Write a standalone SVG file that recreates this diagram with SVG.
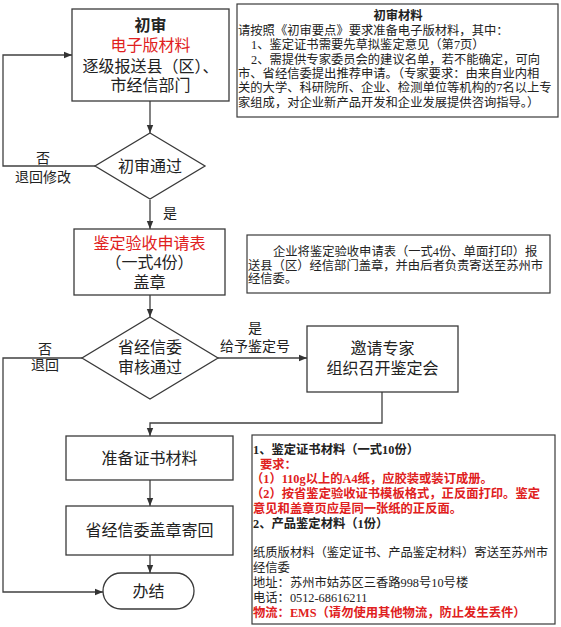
<svg xmlns="http://www.w3.org/2000/svg" width="561" height="627" viewBox="0 0 561 627">
<defs>
<marker id="arr" markerUnits="userSpaceOnUse" markerWidth="8" markerHeight="8" viewBox="0 0 8 8" refX="8" refY="4" orient="auto">
<path d="M0,0.8 L8,4 L0,7.2 Z" fill="#333"/>
</marker>
<style>
.n{fill:#fff;stroke:#3a3a3a;stroke-width:1.3}
.i{fill:#fff;stroke:#3a3a3a;stroke-width:1.2}
.c{fill:none;stroke:#404040;stroke-width:1.3}
text{font-family:"Liberation Serif","Noto Sans CJK SC",serif;fill:#222}
.t{font-size:16px;text-anchor:middle}
.l{font-size:14px;text-anchor:middle}
.s{font-size:12.3px}
.b{font-weight:bold}
.r{fill:#e02020}
</style>
</defs>
<g id="connectors">
<path class="c" d="M150,101 V133" marker-end="url(#arr)"/>
<path class="c" d="M95,166 H3 V55 H72" marker-end="url(#arr)"/>
<path class="c" d="M150,200 V229" marker-end="url(#arr)"/>
<path class="c" d="M150,295 V317" marker-end="url(#arr)"/>
<path class="c" d="M218,358 H307" marker-end="url(#arr)"/>
<path class="c" d="M82,358 H3 V592 H103" marker-end="url(#arr)"/>
<path class="c" d="M382,392 V423 H150 V436" marker-end="url(#arr)"/>
<path class="c" d="M150,480 V506" marker-end="url(#arr)"/>
<path class="c" d="M150,555 V573" marker-end="url(#arr)"/>
<text class="l" x="43" y="163">否</text>
<text class="l" x="43" y="182">退回修改</text>
<text class="l" x="170" y="218">是</text>
<text class="l" x="45" y="354">否</text>
<text class="l" x="45" y="370">退回</text>
<text class="l" x="255" y="333">是</text>
<text class="l" x="255" y="351">给予鉴定号</text>
</g>
<g id="node-chushen">
<rect class="n" x="72" y="9" width="157" height="92"/>
<text class="t b" x="150.5" y="31">初审</text>
<text class="t r" x="150.5" y="51">电子版材料</text>
<text class="t" x="150.5" y="72">逐级报送县（区）、</text>
<text class="t" x="150.5" y="91">市经信部门</text>
</g>
<g id="node-chushen-pass">
<polygon class="n" points="150,133 205,166 150,199 95,166"/>
<text class="t" x="150" y="172">初审通过</text>
</g>
<g id="node-shenqingbiao">
<rect class="n" x="74" y="229" width="151" height="66"/>
<text class="t r" x="149.5" y="249">鉴定验收申请表</text>
<text class="t" x="149.5" y="268">（一式4份）</text>
<text class="t" x="149.5" y="288">盖章</text>
</g>
<g id="node-shenhe">
<polygon class="n" points="150,317 218,358 150,399 82,358"/>
<text class="t" x="150" y="353">省经信委</text>
<text class="t" x="150" y="373">审核通过</text>
</g>
<g id="node-yaoqing">
<rect class="n" x="307" y="326" width="151" height="66"/>
<text class="t" x="382.5" y="354">邀请专家</text>
<text class="t" x="382.5" y="374">组织召开鉴定会</text>
</g>
<g id="node-zhunbei">
<rect class="n" x="66" y="436" width="167" height="44"/>
<text class="t" x="149.5" y="464">准备证书材料</text>
</g>
<g id="node-gaizhang">
<rect class="n" x="66" y="506" width="167" height="49"/>
<text class="t" x="149.5" y="536">省经信委盖章寄回</text>
</g>
<g id="node-banjie">
<rect class="n" x="103" y="573" width="91" height="36" rx="18" ry="18"/>
<text class="t" x="148.5" y="597">办结</text>
</g>
<g id="note-chushen">
<rect class="i" x="237" y="4" width="321" height="113"/>
<text class="s b" x="398" y="19.7" text-anchor="middle">初审材料</text>
<text class="s" x="238" y="34.7">请按照《初审要点》要求准备电子版材料，其中：</text>
<text class="s" x="251" y="49.1">1、鉴定证书需要先草拟鉴定意见（第7页）</text>
<text class="s" x="251" y="63.5">2、需提供专家委员会的建议名单，若不能确定，可向</text>
<text class="s" x="238" y="77.9">市、省经信委提出推荐申请。（专家要求：由来自业内相</text>
<text class="s" x="238" y="92.3">关的大学、科研院所、企业、检测单位等机构的7名以上专</text>
<text class="s" x="238" y="106.7">家组成，对企业新产品开发和企业发展提供咨询指导。）</text>
</g>
<g id="note-shenqing">
<rect class="i" x="247" y="235" width="303" height="58"/>
<text class="s" x="273" y="255.7">企业将鉴定验收申请表（一式4份、单面打印）报</text>
<text class="s" x="248" y="269.7">送县（区）经信部门盖章，并由后者负责寄送至苏州市</text>
<text class="s" x="248" y="282.7">经信委。</text>
</g>
<g id="note-zhengshu">
<rect class="i" x="252" y="435" width="303" height="189"/>
<text class="s b" x="253" y="453.7">1、鉴定证书材料（一式10份）</text>
<text class="s b r" x="260" y="468.5">要求：</text>
<text class="s b r" x="251" y="483.3">（1）110g以上的A4纸，应胶装或装订成册。</text>
<text class="s b r" x="251" y="498.1">（2）按省鉴定验收证书模板格式，正反面打印。鉴定</text>
<text class="s b r" x="253" y="512.9">意见和盖章页应是同一张纸的正反面。</text>
<text class="s b" x="253" y="527.7">2、产品鉴定材料（1份）</text>
<text class="s" x="253" y="557.3">纸质版材料（鉴定证书、产品鉴定材料）寄送至苏州市</text>
<text class="s" x="253" y="572.1">经信委</text>
<text class="s" x="253" y="586.9">地址：苏州市姑苏区三香路998号10号楼</text>
<text class="s" x="253" y="601.7">电话：0512-68616211</text>
<text class="s b r" x="253" y="616.5">物流：EMS（请勿使用其他物流，防止发生丢件）</text>
</g>
</svg>
